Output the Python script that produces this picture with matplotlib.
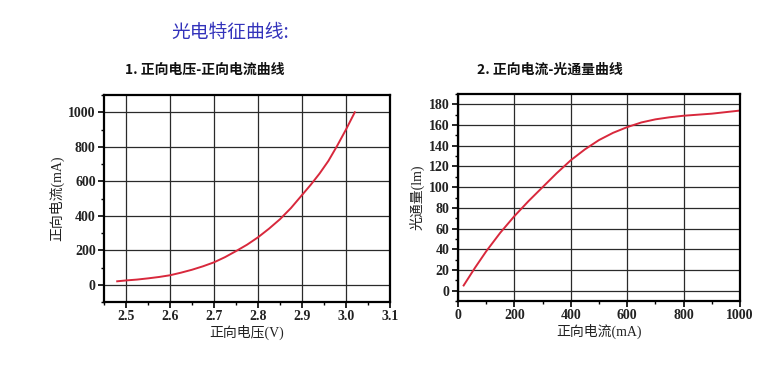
import matplotlib
matplotlib.use("Agg")
import matplotlib.pyplot as plt
from matplotlib.ticker import MultipleLocator

# Data
voltage_v = [2.48, 2.50, 2.525, 2.55, 2.575, 2.60, 2.625, 2.65, 2.675, 2.70, 2.725, 2.75, 2.775,
             2.80, 2.825, 2.85, 2.875, 2.90, 2.92, 2.94, 2.96, 2.98, 3.00, 3.02]
current_ma = [20, 25, 30, 37, 45, 55, 70, 87, 107, 130, 160, 195, 232,
              275, 325, 380, 445, 520, 580, 645, 718, 806, 900, 1000]

flux_current_ma = [20, 60, 100, 150, 200, 250, 300, 350, 400, 450, 500, 550, 600, 650, 700, 750, 800, 850, 900, 950, 1000]
flux_lm = [5, 22, 38, 56, 72, 86.5, 100, 113.5, 126, 136.5, 145.5, 152.5, 158, 162.5, 165.5, 167.5, 169, 170, 171, 172.5, 174]

title_main = "光电特征曲线:"
title_1 = "1. 正向电压-正向电流曲线"
title_2 = "2. 正向电流-光通量曲线"

cjk = ["Noto Sans CJK SC", "DejaVu Sans"]
serif_cjk = ["Liberation Serif", "Noto Sans CJK SC"]

fig = plt.figure(figsize=(7.82, 3.75), dpi=100)
W, H = 782, 375

def ax_at(l, t, r, b):
    return fig.add_axes([l / W, 1 - b / H, (r - l) / W, (b - t) / H])

ax1 = ax_at(104, 95, 390, 302)
ax2 = ax_at(458, 94, 740, 301)

line_c = "#d8283c"
grid_c = "#2a2a2a"

def style(ax):
    for s in ax.spines.values():
        s.set_linewidth(1.6)
        s.set_color("black")
    ax.grid(True, which="major", color=grid_c, linewidth=0.9)
    ax.set_axisbelow(True)
    ax.tick_params(which="major", direction="out", length=4, width=1.2, pad=2)
    ax.tick_params(which="minor", direction="out", length=2.5, width=1.0)
    for lab in ax.get_xticklabels() + ax.get_yticklabels():
        lab.set_fontfamily("Liberation Serif")
        lab.set_fontweight("bold")
        lab.set_fontsize(10)
        lab.set_color("#222222")

# Chart 1
ax1.plot(voltage_v, current_ma, color=line_c, linewidth=1.4)
ax1.set_xlim(2.45, 3.1)
ax1.set_ylim(-100, 1100)
ax1.xaxis.set_major_locator(MultipleLocator(0.1))
ax1.xaxis.set_minor_locator(MultipleLocator(0.05))
ax1.yaxis.set_major_locator(MultipleLocator(200))
ax1.yaxis.set_minor_locator(MultipleLocator(100))
style(ax1)
ax1.set_xlabel("正向电压(V)", family=serif_cjk, fontsize=10, color="#222222", labelpad=1)
ax1.set_ylabel("正向电流(mA)", family=serif_cjk, fontsize=10, color="#222222", labelpad=3)

# Chart 2
ax2.plot(flux_current_ma, flux_lm, color=line_c, linewidth=1.4)
ax2.set_xlim(0, 1000)
ax2.set_ylim(-10, 190)
ax2.xaxis.set_major_locator(MultipleLocator(200))
ax2.xaxis.set_minor_locator(MultipleLocator(100))
ax2.yaxis.set_major_locator(MultipleLocator(20))
ax2.yaxis.set_minor_locator(MultipleLocator(10))
style(ax2)
ax2.set_xlabel("正向电流(mA)", family=serif_cjk, fontsize=10, color="#222222", labelpad=1)
ax2.set_ylabel("光通量(lm)", family=serif_cjk, fontsize=10, color="#222222", labelpad=3)

fig.text(230 / W, 1 - 32 / H, title_main, family=cjk, fontsize=13.5, color="#3333bb",
         ha="center", va="center")
fig.text(125 / W, 1 - 70 / H, title_1, family=cjk, fontsize=10, color="#111111",
         ha="left", va="center", fontweight="bold")
fig.text(477 / W, 1 - 70 / H, title_2, family=cjk, fontsize=10, color="#111111",
         ha="left", va="center", fontweight="bold")

fig.savefig("out.png", dpi=100, facecolor="white")
